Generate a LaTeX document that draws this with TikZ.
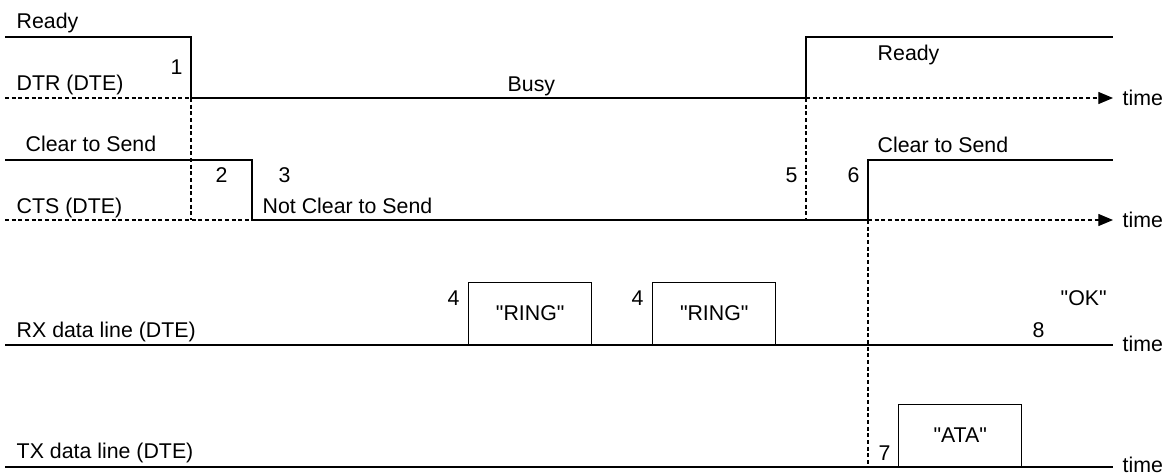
\documentclass[tikz,border=0pt]{standalone}
\usepackage{fontspec}
\setmainfont{Liberation Sans}[Ligatures=TeXOff]
\usetikzlibrary{positioning, calc}
\usetikzlibrary{arrows.meta}

\begin{document}
\begin{tikzpicture}[x=0.75pt,y=-0.75pt,line width=1.1pt,font=\fontsize{16}{19}\selectfont]
	\useasboundingbox (0,0) rectangle (1168,475);

	\def \dtrhi{37}
	\def \dtrlo{98}
	\def \ctshi{160}
	\def \ctslo{220}
	\def \rxline{345}
	\def \txline{467}
	\def \tend{1113}
	\tikzstyle{lbl}=[anchor=base west,inner sep=0pt]
	\tikzstyle{dots}=[line width=0.9pt,dash pattern=on 3pt off 2pt]
	\tikzstyle{axis}=[dots,-{Triangle[length=11pt,width=9pt]}]
	\tikzstyle{pulse}=[draw,anchor=south west,minimum width=92.25pt,minimum height=46.5pt,inner sep=0pt]

	% DTR
	\draw (5,\dtrhi) -- (191,\dtrhi) -- (191,\dtrlo) -- (806,\dtrlo) -- (806,\dtrhi) -- (\tend,\dtrhi);
	\draw[dots] (5,\dtrlo) -- (191,\dtrlo);
	\draw[axis] (806,\dtrlo) -- (\tend,\dtrlo);
	\node[lbl] (dtrready)	at (16,28)	{Ready};
	\node[lbl] (dtrname)	at (16,90)	{DTR (DTE)};
	\node[lbl] (ev1)	at (170,74)	{1};
	\node[lbl] (dtrbusy)	at (507,91)	{Busy};
	\node[lbl] (dtrready2)	at (877,60)	{Ready};
	\node[lbl] (time1)	at (1122,105)	{time};

	% CTS
	\draw (5,\ctshi) -- (252,\ctshi) -- (252,\ctslo) -- (868,\ctslo) -- (868,\ctshi) -- (\tend,\ctshi);
	\draw[dots] (5,\ctslo) -- (252,\ctslo);
	\draw[axis] (868,\ctslo) -- (\tend,\ctslo);
	\draw[dots] (191,\dtrlo) -- (191,\ctslo);
	\draw[dots] (806,\dtrlo) -- (806,\ctslo);
	\node[lbl] (ctsclear)	at (25,151)	{Clear to Send};
	\node[lbl] (ctsname)	at (16,213)	{CTS (DTE)};
	\node[lbl] (ev2)	at (215,182)	{2};
	\node[lbl] (ev3)	at (278,182)	{3};
	\node[lbl] (ctsnot)	at (262,213)	{Not Clear to Send};
	\node[lbl] (ev5)	at (785,182)	{5};
	\node[lbl] (ev6)	at (847,182)	{6};
	\node[lbl] (ctsclear2)	at (877,152)	{Clear to Send};
	\node[lbl] (time2)	at (1122,227)	{time};

	% RX data
	\draw (5,\rxline) -- (\tend,\rxline);
	\node[pulse] (ring1)	at (468,\rxline)	{"RING"};
	\node[pulse] (ring2)	at (652,\rxline)	{"RING"};
	\node[lbl] (ev4a)	at (447,305)	{4};
	\node[lbl] (ev4b)	at (631,305)	{4};
	\node[lbl] (rxname)	at (16,337)	{RX data line (DTE)};
	\node[lbl] (rxok)	at (1060,305)	{"OK"};
	\node[lbl] (ev8)	at (1032,337)	{8};
	\node[lbl] (time3)	at (1122,351)	{time};

	% TX data
	\draw (5,\txline) -- (\tend,\txline);
	\draw[dots] (868,\ctslo) -- (868,\txline);
	\node[pulse] (ata)	at (898,\txline)	{"ATA"};
	\node[lbl] (ev7)	at (878,460)	{7};
	\node[lbl] (txname)	at (16,458)	{TX data line (DTE)};
	\node[lbl] (time4)	at (1122,472)	{time};
\end{tikzpicture}
\end{document}
